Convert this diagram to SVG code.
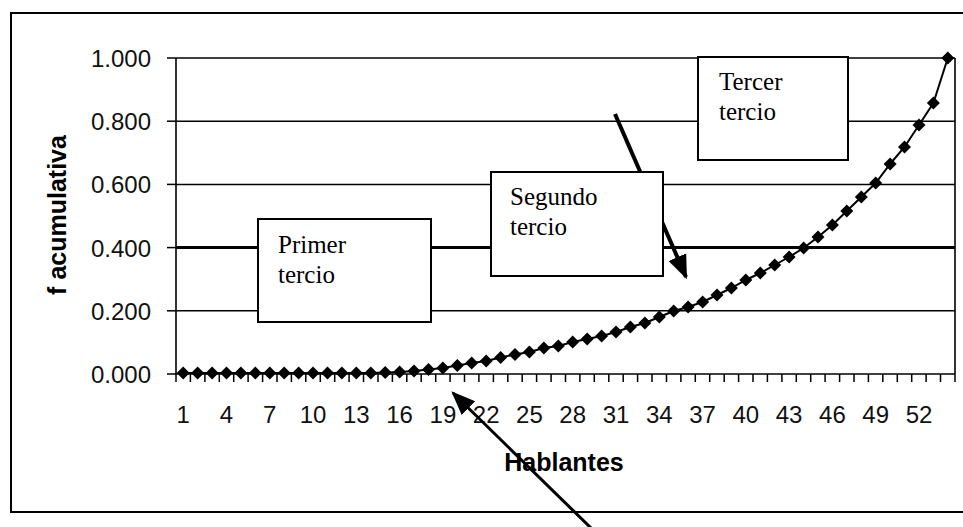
<svg xmlns="http://www.w3.org/2000/svg" xmlns:xlink="http://www.w3.org/1999/xlink" width="963" height="527" viewBox="0 0 963 527">
<style>
.grid{stroke:#000;stroke-width:1.5;fill:none}
.ax{stroke:#000;stroke-width:1.6;fill:none}
.tick{stroke:#000;stroke-width:1.5}
.num{font-family:"Liberation Sans",Arial,sans-serif;font-size:24px;fill:#111}
.title{font-family:"Liberation Sans",Arial,sans-serif;font-size:25px;font-weight:bold;fill:#000}
.box{fill:#fff;stroke:#000;stroke-width:2}
.lbl{font-family:"Liberation Serif","Times New Roman",serif;font-size:25px;fill:#000}
.arrow{stroke:#000;fill:none}
</style>
<defs>
<path id="dm" d="M0,-6.5 L6.5,0 L0,6.5 L-6.5,0 Z" fill="#000"/>
<marker id="ah" markerUnits="userSpaceOnUse" markerWidth="24" markerHeight="24" refX="18" refY="8" orient="auto" viewBox="0 0 20 16">
<path d="M0,0 L20,8 L0,16 Z" fill="#000"/>
</marker>
</defs>
<rect width="963" height="527" fill="#fff"/>
<g id="frame"><path d="M966,13 H11 V512 H966" fill="none" stroke="#000" stroke-width="2"/></g>
<g id="grid">
<line class="grid" x1="176" y1="58" x2="955" y2="58"/>
<line class="grid" x1="176" y1="121.2" x2="955" y2="121.2"/>
<line class="grid" x1="176" y1="184.4" x2="955" y2="184.4"/>
<line class="grid" x1="176" y1="247.6" x2="955" y2="247.6" style="stroke-width:3"/>
<line class="grid" x1="176" y1="310.8" x2="955" y2="310.8"/>
<line class="ax" x1="955" y1="58" x2="955" y2="374"/>
</g>
<g id="axes">
<line class="ax" x1="176" y1="58" x2="176" y2="374"/>
<line class="ax" x1="176" y1="374" x2="955" y2="374"/>
<g class="tick">
<line x1="167" y1="58" x2="176" y2="58"/><line x1="167" y1="121.2" x2="176" y2="121.2"/><line x1="167" y1="184.4" x2="176" y2="184.4"/><line x1="167" y1="247.6" x2="176" y2="247.6"/><line x1="167" y1="310.8" x2="176" y2="310.8"/><line x1="167" y1="374" x2="176" y2="374"/>
</g>
<path class="tick" d="M176,374v8M190.4,374v8M204.9,374v8M219.3,374v8M233.7,374v8M248.1,374v8M262.6,374v8M277,374v8M291.4,374v8M305.8,374v8M320.3,374v8M334.7,374v8M349.1,374v8M363.5,374v8M378,374v8M392.4,374v8M406.8,374v8M421.2,374v8M435.7,374v8M450.1,374v8M464.5,374v8M478.9,374v8M493.4,374v8M507.8,374v8M522.2,374v8M536.6,374v8M551.1,374v8M565.5,374v8M579.9,374v8M594.3,374v8M608.8,374v8M623.2,374v8M637.6,374v8M652,374v8M666.5,374v8M680.9,374v8M695.3,374v8M709.7,374v8M724.2,374v8M738.6,374v8M753,374v8M767.4,374v8M781.9,374v8M796.3,374v8M810.7,374v8M825.1,374v8M839.6,374v8M854,374v8M868.4,374v8M882.8,374v8M897.3,374v8M911.7,374v8M926.1,374v8M940.5,374v8M955,374v8"/>
<g class="num" text-anchor="end">
<text x="151" y="67">1.000</text><text x="151" y="130.2">0.800</text><text x="151" y="193.4">0.600</text><text x="151" y="256.6">0.400</text><text x="151" y="319.8">0.200</text><text x="151" y="383">0.000</text>
</g>
<g class="num" text-anchor="middle">
<text x="183.2" y="423">1</text><text x="226.5" y="423">4</text><text x="269.8" y="423">7</text><text x="313" y="423">10</text><text x="356.3" y="423">13</text><text x="399.6" y="423">16</text><text x="442.9" y="423">19</text><text x="486.2" y="423">22</text><text x="529.4" y="423">25</text><text x="572.7" y="423">28</text><text x="616" y="423">31</text><text x="659.3" y="423">34</text><text x="702.6" y="423">37</text><text x="745.8" y="423">40</text><text x="789.1" y="423">43</text><text x="832.4" y="423">46</text><text x="875.7" y="423">49</text><text x="919" y="423">52</text>
</g>
<text class="title" x="564" y="471" text-anchor="middle">Hablantes</text>
<text class="title" transform="translate(66,215) rotate(-90)" text-anchor="middle">f acumulativa</text>
</g>
<g id="series">
<polyline fill="none" stroke="#000" stroke-width="2" points="183.2,373 197.6,373 212.1,373 226.5,373 240.9,373 255.3,373 269.8,373 284.2,373 298.6,373 313,373 327.5,373 341.9,373 356.3,373 370.8,373 385.2,372.5 399.6,372 414,371 428.5,369.5 442.9,368 457.3,365.5 471.7,363 486.2,361 500.6,357.5 515,354.5 529.4,352 543.9,348 558.3,346 572.7,342 587.2,339 601.6,336 616,332 630.4,327 644.9,323 659.3,317 673.7,311 688.1,307 702.6,302 717,295 731.4,288 745.8,280 760.3,273 774.7,265 789.1,257 803.6,248 818,237 832.4,225 846.8,211 861.3,197 875.7,183 890.1,164 904.5,147 919,125 933.4,103 947.8,58"/>
<use xlink:href="#dm" x="183.2" y="373"/><use xlink:href="#dm" x="197.6" y="373"/><use xlink:href="#dm" x="212.1" y="373"/><use xlink:href="#dm" x="226.5" y="373"/><use xlink:href="#dm" x="240.9" y="373"/><use xlink:href="#dm" x="255.3" y="373"/><use xlink:href="#dm" x="269.8" y="373"/><use xlink:href="#dm" x="284.2" y="373"/><use xlink:href="#dm" x="298.6" y="373"/><use xlink:href="#dm" x="313" y="373"/><use xlink:href="#dm" x="327.5" y="373"/><use xlink:href="#dm" x="341.9" y="373"/><use xlink:href="#dm" x="356.3" y="373"/><use xlink:href="#dm" x="370.8" y="373"/><use xlink:href="#dm" x="385.2" y="372.5"/><use xlink:href="#dm" x="399.6" y="372"/><use xlink:href="#dm" x="414" y="371"/><use xlink:href="#dm" x="428.5" y="369.5"/><use xlink:href="#dm" x="442.9" y="368"/><use xlink:href="#dm" x="457.3" y="365.5"/><use xlink:href="#dm" x="471.7" y="363"/><use xlink:href="#dm" x="486.2" y="361"/><use xlink:href="#dm" x="500.6" y="357.5"/><use xlink:href="#dm" x="515" y="354.5"/><use xlink:href="#dm" x="529.4" y="352"/><use xlink:href="#dm" x="543.9" y="348"/><use xlink:href="#dm" x="558.3" y="346"/><use xlink:href="#dm" x="572.7" y="342"/><use xlink:href="#dm" x="587.2" y="339"/><use xlink:href="#dm" x="601.6" y="336"/><use xlink:href="#dm" x="616" y="332"/><use xlink:href="#dm" x="630.4" y="327"/><use xlink:href="#dm" x="644.9" y="323"/><use xlink:href="#dm" x="659.3" y="317"/><use xlink:href="#dm" x="673.7" y="311"/><use xlink:href="#dm" x="688.1" y="307"/><use xlink:href="#dm" x="702.6" y="302"/><use xlink:href="#dm" x="717" y="295"/><use xlink:href="#dm" x="731.4" y="288"/><use xlink:href="#dm" x="745.8" y="280"/><use xlink:href="#dm" x="760.3" y="273"/><use xlink:href="#dm" x="774.7" y="265"/><use xlink:href="#dm" x="789.1" y="257"/><use xlink:href="#dm" x="803.6" y="248"/><use xlink:href="#dm" x="818" y="237"/><use xlink:href="#dm" x="832.4" y="225"/><use xlink:href="#dm" x="846.8" y="211"/><use xlink:href="#dm" x="861.3" y="197"/><use xlink:href="#dm" x="875.7" y="183"/><use xlink:href="#dm" x="890.1" y="164"/><use xlink:href="#dm" x="904.5" y="147"/><use xlink:href="#dm" x="919" y="125"/><use xlink:href="#dm" x="933.4" y="103"/><use xlink:href="#dm" x="947.8" y="58"/>
</g>
<g id="connectors">
<line class="arrow" x1="615" y1="114" x2="686" y2="277" stroke-width="4" marker-end="url(#ah)"/>
<line class="arrow" x1="592" y1="529" x2="453" y2="393" stroke-width="3" marker-end="url(#ah)"/>
</g>
<g id="primer">
<rect class="box" x="258" y="219" width="173" height="103"/>
<text class="lbl" x="278" y="253">Primer</text>
<text class="lbl" x="278" y="283">tercio</text>
</g>
<g id="segundo">
<rect class="box" x="491" y="172" width="172" height="104"/>
<text class="lbl" x="510" y="205">Segundo</text>
<text class="lbl" x="510" y="235">tercio</text>
</g>
<g id="tercer">
<rect class="box" x="698" y="57" width="150" height="103"/>
<text class="lbl" x="719" y="90">Tercer</text>
<text class="lbl" x="719" y="120">tercio</text>
</g>
</svg>
